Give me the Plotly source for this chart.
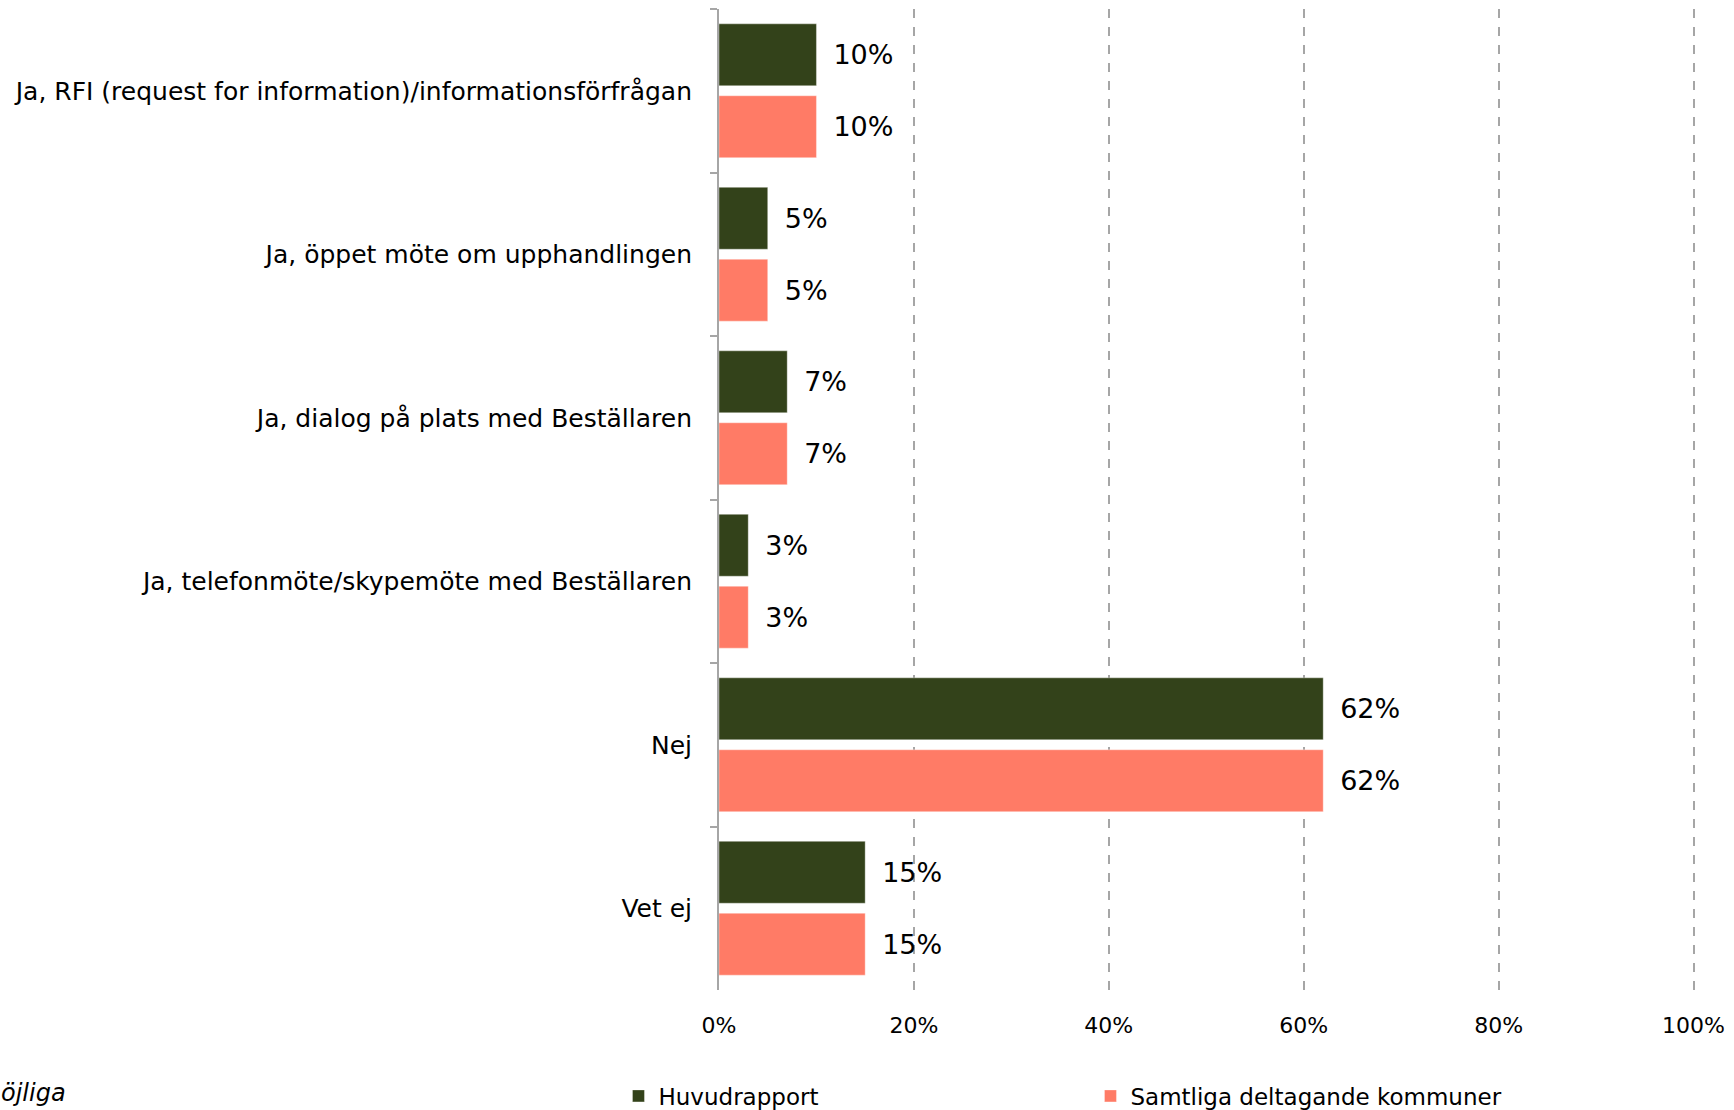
import plotly.graph_objects as go

categories = [
    "Ja, RFI (request for information)/informationsförfrågan",
    "Ja, öppet möte om upphandlingen",
    "Ja, dialog på plats med Beställaren",
    "Ja, telefonmöte/skypemöte med Beställaren",
    "Nej",
    "Vet ej",
]
huvudrapport = [10, 5, 7, 3, 62, 15]
samtliga = [10, 5, 7, 3, 62, 15]
series_names = ["Huvudrapport", "Samtliga deltagande kommuner"]
x_ticks = [0, 20, 40, 60, 80, 100]
x_tick_labels = ["0%", "20%", "40%", "60%", "80%", "100%"]

FONT = "Tahoma, Verdana, DejaVu Sans, sans-serif"
DARK = "#33421A"
SALMON = "#FF7B66"

fig = go.Figure()
for name, vals, color in [(series_names[0], huvudrapport, DARK),
                          (series_names[1], samtliga, SALMON)]:
    fig.add_trace(go.Bar(
        y=categories, x=vals, orientation="h", name=name,
        marker=dict(color=color, line=dict(color="rgba(255,255,255,0.35)", width=1)),
        text=[f" \u2009{v}%" for v in vals], textposition="outside",
        textfont=dict(family=FONT, size=27, color="#000000"),
        constraintext="none", cliponaxis=False,
    ))

fig.update_layout(
    width=1734, height=1110,
    margin=dict(l=719, r=39, t=9, b=120, autoexpand=False),
    paper_bgcolor="white", plot_bgcolor="white",
    barmode="group", bargap=0.12, bargroupgap=0.14,
    font=dict(family=FONT, color="#000000"),
    showlegend=True,
    legend=dict(
        orientation="h", x=-0.103, xanchor="left",
        y=-0.108, yanchor="middle",
        font=dict(family=FONT, size=23),
        entrywidth=427, entrywidthmode="pixels",
        itemwidth=30, traceorder="normal",
    ),
)
# range reaches just past 100 so the 100% gridline is drawn
fig.update_xaxes(
    range=[0, 100.15], tickvals=x_ticks, ticktext=x_tick_labels,
    showgrid=True, gridcolor="#A6A6A6", griddash="dash", gridwidth=1.5,
    zeroline=False, showline=False, ticks="", automargin=False,
    tickfont=dict(family=FONT, size=22), ticklabelstandoff=20,
)
fig.update_yaxes(
    categoryorder="array", categoryarray=categories, autorange="reversed",
    showline=True, linecolor="#A6A6A6", linewidth=2, automargin=False,
    ticks="outside", tickson="boundaries", ticklen=7, tickcolor="#A6A6A6", tickwidth=2,
    showgrid=False, tickfont=dict(family=FONT, size=25), ticklabelstandoff=20,
)
fig.add_annotation(
    text="<i>öjliga</i>", xref="paper", yref="paper",
    x=-0.738, y=-0.105, xanchor="left", yanchor="middle", showarrow=False,
    font=dict(family=FONT, size=24, color="#000000"),
)

fig.write_html("out.html")
